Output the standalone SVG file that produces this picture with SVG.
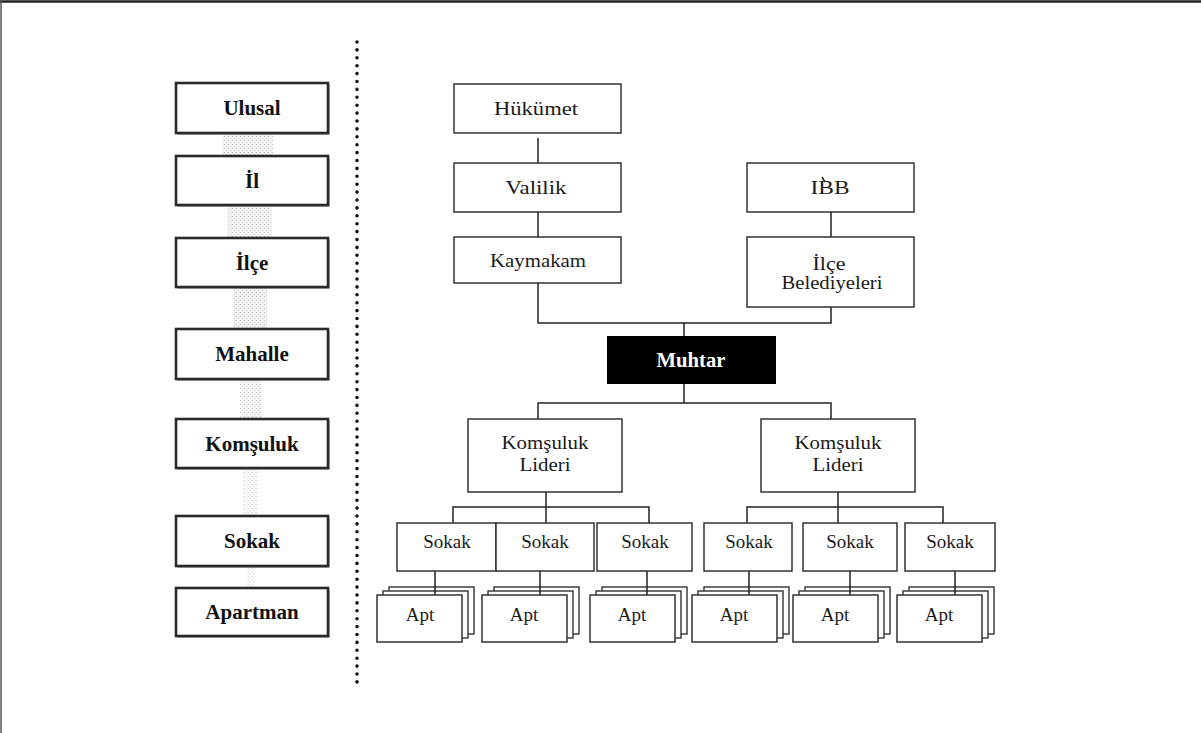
<svg xmlns="http://www.w3.org/2000/svg" width="1201" height="733" viewBox="0 0 1201 733">
<defs>
<pattern id="dith" width="4" height="4" patternUnits="userSpaceOnUse">
<rect width="4" height="4" fill="#f4f4f4"/>
<rect x="0" y="0" width="1" height="1" fill="#c2c2c2"/>
<rect x="2" y="2" width="1" height="1" fill="#cdcdcd"/>
<rect x="3" y="0" width="1" height="1" fill="#dedede"/>
</pattern>
<g id="stack">
<rect x="12" y="-8" width="85" height="47" fill="#fff" stroke="#333" stroke-width="1.4"/>
<rect x="6" y="-4" width="85" height="47" fill="#fff" stroke="#333" stroke-width="1.4"/>
<rect x="0" y="0" width="85" height="47" fill="#fff" stroke="#333" stroke-width="1.5"/>
</g>
</defs>
<style>
.lvl{fill:#fff;stroke:#2a2a2a;stroke-width:2.6}
.sh{fill:#666}
.lt{font-family:"Liberation Serif","Times New Roman",serif;font-weight:bold;font-size:21px;fill:#111;text-anchor:middle}
.bx{fill:#fff;stroke:#333;stroke-width:1.5}
.t{font-family:"Liberation Serif","Times New Roman",serif;font-size:19.5px;fill:#1a1a1a;text-anchor:middle}
.s{font-family:"Liberation Serif","Times New Roman",serif;font-size:19px;fill:#1a1a1a;text-anchor:middle}
.c{fill:none;stroke:#222;stroke-width:1.5}
.dith{fill:url(#dith)}
</style>
<rect width="1201" height="733" fill="#fff"/>
<line x1="0" y1="1.5" x2="1201" y2="1.5" stroke="#222" stroke-width="2.5"/>
<line x1="1" y1="0" x2="1" y2="733" stroke="#555" stroke-width="1.5"/>

<g id="faint-bars">
<rect class="dith" x="223" y="134" width="50" height="22"/>
<rect class="dith" x="228" y="206" width="44" height="32"/>
<rect class="dith" x="233" y="288" width="34" height="41"/>
<rect class="dith" x="240" y="380" width="22" height="39" opacity="0.8"/>
<rect class="dith" x="243" y="469" width="15" height="47" opacity="0.55"/>
<rect class="dith" x="247" y="567" width="8" height="21" opacity="0.5"/>
</g>

<g id="level-ulusal"><rect class="sh" x="177.5" y="84.5" width="152" height="50"/><rect class="lvl" x="176" y="83" width="152" height="50"/><text class="lt" x="252" y="115">Ulusal</text></g>
<g id="level-il"><rect class="sh" x="177.5" y="157.5" width="152" height="49"/><rect class="lvl" x="176" y="156" width="152" height="49"/><text class="lt" x="252" y="188">İl</text></g>
<g id="level-ilce"><rect class="sh" x="177.5" y="239.5" width="152" height="49"/><rect class="lvl" x="176" y="238" width="152" height="49"/><text class="lt" x="252" y="270">İlçe</text></g>
<g id="level-mahalle"><rect class="sh" x="177.5" y="330.5" width="152" height="50"/><rect class="lvl" x="176" y="329" width="152" height="50"/><text class="lt" x="252" y="361">Mahalle</text></g>
<g id="level-komsuluk"><rect class="sh" x="177.5" y="420.5" width="152" height="49"/><rect class="lvl" x="176" y="419" width="152" height="49"/><text class="lt" x="252" y="451">Komşuluk</text></g>
<g id="level-sokak"><rect class="sh" x="177.5" y="517.5" width="152" height="50"/><rect class="lvl" x="176" y="516" width="152" height="50"/><text class="lt" x="252" y="548">Sokak</text></g>
<g id="level-apartman"><rect class="sh" x="177.5" y="589.5" width="152" height="48"/><rect class="lvl" x="176" y="588" width="152" height="48"/><text class="lt" x="252" y="619">Apartman</text></g>

<g id="divider">
<line x1="357" y1="42" x2="357" y2="683" stroke="#111" stroke-width="3.6" stroke-linecap="round" stroke-dasharray="0 7.9"/>
</g>

<g id="hukumet"><rect class="bx" x="454" y="84" width="167" height="49"/><text class="t" x="536" y="115" textLength="84" lengthAdjust="spacingAndGlyphs">Hükümet</text></g>
<g id="valilik"><rect class="bx" x="454" y="163" width="167" height="49"/><text class="t" x="536" y="194" textLength="61" lengthAdjust="spacingAndGlyphs">Valilik</text></g>
<g id="kaymakam"><rect class="bx" x="454" y="237" width="167" height="46"/><text class="t" x="538" y="267" textLength="96" lengthAdjust="spacingAndGlyphs">Kaymakam</text></g>
<g id="ibb"><rect class="bx" x="747" y="163" width="167" height="49"/><text class="t" x="830" y="194" textLength="39" lengthAdjust="spacingAndGlyphs">IBB</text><path d="M822,177 L825,182" stroke="#222" stroke-width="1.5"/></g>
<g id="ilce-belediyeleri"><rect class="bx" x="747" y="237" width="167" height="70"/><text class="t" x="829" y="270" textLength="33" lengthAdjust="spacingAndGlyphs">İlçe</text><text class="t" x="832" y="289" textLength="101" lengthAdjust="spacingAndGlyphs">Belediyeleri</text></g>

<g id="muhtar"><rect x="607" y="336" width="169" height="48" fill="#000"/><text x="691" y="367" font-family="Liberation Serif, Times New Roman, serif" font-weight="bold" font-size="21" fill="#fff" text-anchor="middle" textLength="69" lengthAdjust="spacingAndGlyphs">Muhtar</text></g>

<g id="komsuluk-lideri-1"><rect class="bx" x="468" y="419" width="154" height="73"/><text class="t" x="545" y="449" textLength="87" lengthAdjust="spacingAndGlyphs">Komşuluk</text><text class="t" x="545" y="471" textLength="51" lengthAdjust="spacingAndGlyphs">Lideri</text></g>
<g id="komsuluk-lideri-2"><rect class="bx" x="761" y="419" width="154" height="73"/><text class="t" x="838" y="449" textLength="87" lengthAdjust="spacingAndGlyphs">Komşuluk</text><text class="t" x="838" y="471" textLength="51" lengthAdjust="spacingAndGlyphs">Lideri</text></g>

<g id="sokak-1"><rect class="bx" x="397" y="523" width="99" height="48"/><text class="s" x="447" y="548">Sokak</text></g>
<g id="sokak-2"><rect class="bx" x="496" y="523" width="98" height="48"/><text class="s" x="545" y="548">Sokak</text></g>
<g id="sokak-3"><rect class="bx" x="597" y="523" width="95" height="48"/><text class="s" x="645" y="548">Sokak</text></g>
<g id="sokak-4"><rect class="bx" x="704" y="523" width="88" height="48"/><text class="s" x="749" y="548">Sokak</text></g>
<g id="sokak-5"><rect class="bx" x="803" y="523" width="94" height="48"/><text class="s" x="850" y="548">Sokak</text></g>
<g id="sokak-6"><rect class="bx" x="905" y="523" width="90" height="48"/><text class="s" x="950" y="548">Sokak</text></g>

<g id="apt-1"><use href="#stack" x="377" y="595"/><text class="s" x="420" y="621">Apt</text></g>
<g id="apt-2"><use href="#stack" x="482" y="595"/><text class="s" x="524" y="621">Apt</text></g>
<g id="apt-3"><use href="#stack" x="590" y="595"/><text class="s" x="632" y="621">Apt</text></g>
<g id="apt-4"><use href="#stack" x="692" y="595"/><text class="s" x="734" y="621">Apt</text></g>
<g id="apt-5"><use href="#stack" x="793" y="595"/><text class="s" x="835" y="621">Apt</text></g>
<g id="apt-6"><use href="#stack" x="897" y="595"/><text class="s" x="939" y="621">Apt</text></g>

<g id="connectors">
<path class="c" d="M538,138 V163"/>
<path class="c" d="M538,212 V237"/>
<path class="c" d="M831,212 V237"/>
<path class="c" d="M538,283 V323 H831 V307"/>
<path class="c" d="M684,323 V336"/>
<path class="c" d="M684,384 V403"/>
<path class="c" d="M538,419 V403 H831 V419"/>
<path class="c" d="M546,492 V523"/>
<path class="c" d="M453,523 V507 H649 V523"/>
<path class="c" d="M838,492 V523"/>
<path class="c" d="M747,523 V507 H943 V523"/>
<path class="c" d="M435,571 V595"/>
<path class="c" d="M540,571 V595"/>
<path class="c" d="M647,571 V595"/>
<path class="c" d="M749,571 V595"/>
<path class="c" d="M850,571 V595"/>
<path class="c" d="M955,571 V595"/>
</g>
</svg>
